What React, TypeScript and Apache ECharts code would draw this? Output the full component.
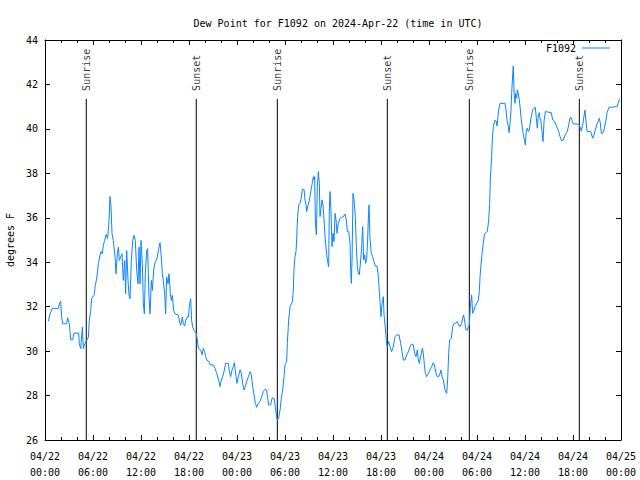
import React, { useEffect, useRef } from "react";
import * as echarts from "echarts";

// Hours since 2024-04-22 00:00 UTC
const hours: number[] = [
  0.42, 0.63, 0.92, 1.67, 1.79, 1.96, 2.08, 2.21, 2.71, 2.83, 3.04, 3.21, 3.46, 3.63, 4.21, 4.29, 4.46, 4.67, 4.79, 4.96,
  5.21, 5.42, 5.54, 5.71, 5.83, 6.13, 6.29, 6.46, 6.67, 6.88, 7.0, 7.17, 7.29, 7.46, 7.63, 7.83, 8.0, 8.13, 8.25, 8.38,
  8.54, 8.75, 8.88, 9.04, 9.17, 9.29, 9.46, 9.63, 9.79, 9.96, 10.08, 10.21, 10.38, 10.5, 10.63, 10.79, 10.96, 11.13, 11.29, 11.46,
  11.63, 11.75, 11.88, 12.0, 12.17, 12.29, 12.42, 12.54, 12.71, 12.83, 13.0, 13.13, 13.29, 13.42, 13.58, 13.71, 13.88, 14.04, 14.21, 14.38,
  14.5, 14.67, 14.79, 14.96, 15.08, 15.21, 15.38, 15.5, 15.67, 15.79, 15.92, 16.08, 16.25, 16.67, 16.83, 16.96, 17.17, 17.29, 17.46, 17.58,
  17.75, 17.92, 18.08, 18.21, 18.33, 18.46, 18.63, 18.79, 18.92,
  19.04, 19.17, 19.46, 19.63, 19.79, 19.96, 20.08, 20.21, 20.5, 20.63, 21.04, 21.25, 21.46, 21.71, 21.88, 22.0, 22.21, 22.42, 22.58, 22.92,
  23.04, 23.21, 23.38, 23.54, 23.67, 23.88, 24.0, 24.17, 24.38, 24.54, 24.71, 24.88, 25.04, 25.21, 25.42, 25.63, 25.79, 25.96, 26.13, 26.29,
  26.46, 26.63, 26.88, 27.08, 27.29, 27.5, 27.71, 27.83, 27.96, 28.21, 28.38, 28.63, 28.79, 28.92, 29.04, 29.21, 29.38, 29.54, 29.71, 29.88,
  30.0, 30.21, 30.29, 30.46, 30.63,
  30.92, 31.04, 31.13, 31.25, 31.38, 31.46, 31.58, 31.71, 31.88, 32.0, 32.17, 32.38, 32.5, 32.63, 32.71, 32.83, 33.0, 33.13, 33.29, 33.42,
  33.54, 33.63, 33.71, 33.79, 33.92, 34.04, 34.17, 34.29, 34.38, 34.5, 34.63, 34.75, 34.88, 35.04, 35.21, 35.33, 35.46, 35.54, 35.63, 35.75,
  35.88, 36.0, 36.13, 36.25, 36.38, 36.5, 36.67, 36.88, 37.08, 37.29, 37.5, 37.67, 37.79, 37.96, 38.13, 38.21, 38.29, 38.38, 38.5, 38.63,
  38.79, 38.92, 39.04, 39.17, 39.29, 39.46, 39.58, 39.71, 39.83, 39.96, 40.08, 40.21, 40.33, 40.42, 40.5, 40.63, 40.79, 40.96, 41.13, 41.29,
  41.5, 41.63, 41.75, 41.88, 42.0, 42.13, 42.29, 42.38, 42.5, 42.63,
  42.71, 42.79, 42.96, 43.13, 43.33, 43.54, 43.75, 43.96, 44.25, 44.46, 44.63, 44.79, 45.0, 45.21, 45.42, 45.63, 45.79, 46.04, 46.21, 46.38,
  46.54, 46.67, 46.79, 47.0, 47.17, 47.29, 47.42, 47.54, 47.71, 47.92, 48.13, 48.33, 48.54, 48.71, 48.88, 49.04, 49.21, 49.38, 49.5, 49.63,
  49.79, 49.96, 50.08, 50.21, 50.33, 50.46, 50.58, 50.79, 50.96, 51.13, 51.33, 51.54, 51.71, 51.88, 52.08, 52.21, 52.33, 52.5, 52.63, 52.79,
  52.92, 53.04, 53.17, 53.33, 53.46, 53.58, 53.75, 53.96, 54.17, 54.29,
  54.38, 54.5, 54.63, 54.79, 54.92, 55.08, 55.29, 55.46, 55.58, 55.67, 55.83, 55.92, 56.04, 56.21, 56.38, 56.5, 56.58, 56.71, 56.88, 57.5,
  57.63, 57.75, 57.92, 58.0, 58.13, 58.25, 58.33, 58.46, 58.54, 58.63, 58.75, 58.83, 58.96, 59.04, 59.17, 59.29, 59.42, 59.54, 59.71, 59.83,
  59.96, 60.04, 60.17, 60.29, 60.42, 60.54, 60.71, 60.83, 60.96, 61.13, 61.29, 61.42, 61.54, 61.67, 61.79, 61.88, 62.0, 62.13, 62.25, 62.38,
  62.54, 63.29, 63.46, 63.71, 63.88, 64.04, 64.21, 64.38, 64.58, 64.79, 64.96, 65.13, 65.29, 65.46, 65.63, 65.79, 65.92, 66.04, 66.54, 66.79,
  66.92, 67.04, 67.21, 67.38, 67.5, 67.63, 67.75, 68.21, 68.33, 68.46, 68.63, 68.79, 68.96, 69.13, 69.29, 69.42, 69.54, 69.71, 69.88, 70.0,
  70.13, 70.25, 70.38, 70.5, 71.54, 71.63, 71.75, 71.88,
];

// Dew point, degrees F
const dewF: number[] = [
  31.34, 31.68, 31.92, 31.92, 32.13, 32.24, 31.53, 31.23, 31.23, 31.5, 31.23, 30.51, 30.51, 30.81, 30.81, 30.33, 30.11, 31.08, 30.11, 30.33,
  30.48, 30.63, 31.38, 31.83, 32.36, 32.51, 32.96, 33.26, 33.93, 34.31, 34.49, 34.38, 34.76, 34.98, 35.25, 35.06, 35.88, 36.96, 36.48, 35.28,
  34.98, 34.23, 33.48, 34.38, 34.68, 34.08, 34.23, 34.38, 33.18, 34.08, 32.58, 34.53, 33.18, 32.51, 32.36, 34.08, 34.98, 35.21, 34.98, 33.63,
  33.03, 34.68, 33.03, 34.98, 33.93, 32.13, 31.68, 33.48, 34.53, 34.61, 32.43, 31.68, 33.18, 32.73, 33.63, 33.93, 34.08, 34.23, 34.61, 34.88,
  34.38, 33.48, 33.18, 32.58, 31.68, 33.33, 33.03, 33.48, 32.58, 32.28, 32.51, 31.83, 31.68, 31.61, 31.31, 31.16, 31.53, 31.23, 31.13, 31.38,
  31.53, 31.53, 32.13, 32.36, 31.38, 31.08, 30.93, 30.86, 30.78,
  30.5, 30.13, 30.05, 29.83, 30.13, 29.98, 29.75, 29.6, 29.53, 29.38, 29.38, 29.23, 29.0, 28.7, 28.4, 28.63, 28.85, 29.15, 29.45, 29.45,
  29.08, 28.85, 29.15, 29.3, 29.48, 28.85, 28.55, 28.85, 29.15, 29.0, 28.55, 28.25, 28.4, 28.63, 28.85, 29.08, 28.93, 28.4, 28.03, 27.65,
  27.47, 27.65, 27.73, 27.95, 28.18, 28.28, 28.25, 27.88, 27.58, 27.58, 27.88, 27.88, 27.5, 27.13, 26.9, 26.98, 27.35, 27.88, 28.25, 28.85,
  29.38, 29.53, 30.35, 31.4, 32.0,
  32.23, 32.75, 33.73, 34.25, 34.48, 35.08, 36.05, 36.58, 36.65, 36.83, 37.28, 37.28, 36.8, 36.58, 36.28, 36.5, 36.73, 36.95, 37.33, 37.58,
  37.85, 37.7, 37.85, 35.9, 35.23, 37.4, 38.08, 37.55, 36.05, 36.43, 36.8, 36.58, 35.9, 35.0, 34.33, 34.03, 33.8, 36.35, 37.18, 36.28,
  34.7, 35.3, 34.93, 36.2, 35.9, 35.3, 35.75, 35.98, 36.02, 36.05, 36.17, 35.9, 35.38, 35.38, 34.85, 33.65, 33.05, 34.1, 37.1, 36.8,
  36.05, 34.7, 33.8, 33.5, 33.43, 34.1, 34.63, 35.6, 34.1, 34.33, 33.95, 34.18, 35.0, 35.98, 36.58, 35.0, 34.4, 34.25, 34.03, 33.83,
  33.83, 33.5, 32.9, 32.23, 31.55, 32.15, 32.45, 31.63, 31.18, 30.65,
  30.28, 30.2, 30.43, 30.2, 29.98, 30.2, 30.65, 30.73, 30.73, 30.35, 29.98, 29.6, 29.6, 29.83, 29.98, 30.2, 30.31, 30.28, 29.9, 29.75,
  30.05, 29.6, 29.45, 29.83, 30.13, 29.9, 29.38, 29.0, 28.85, 29.0, 29.15, 29.3, 29.48, 29.33, 29.0, 28.85, 28.85, 29.0, 29.15, 28.85,
  28.7, 28.33, 28.18, 28.1, 28.7, 29.9, 30.5, 30.58, 31.1, 31.25, 31.25, 31.33, 31.18, 31.1, 31.25, 31.48, 31.63, 31.25, 30.95, 30.95,
  31.1, 31.18, 32.0, 32.53, 31.7, 31.78, 32.0, 32.15, 32.3, 32.68,
  33.35, 33.88, 34.4, 34.85, 35.23, 35.33, 35.38, 35.9, 36.65, 37.78, 38.75, 39.58, 40.1, 40.37, 40.37, 40.13, 40.4, 40.85, 41.15, 41.15,
  40.85, 40.4, 40.1, 39.83, 40.25, 40.85, 41.6, 42.43, 42.83, 41.6, 41.15, 41.6, 41.38, 41.75, 41.6, 41.3, 40.85, 40.4, 39.95, 39.65,
  39.5, 39.28, 39.95, 40.03, 39.88, 39.95, 40.4, 40.63, 40.85, 40.93, 40.97, 40.48, 40.03, 40.63, 40.73, 40.48, 40.33, 39.88, 39.43, 40.33,
  40.78, 40.73, 40.4, 40.33, 40.18, 40.03, 39.88, 39.65, 39.46, 39.5, 39.68, 39.8, 39.88, 40.18, 40.5, 40.5, 40.33, 40.22, 40.22, 40.18,
  40.03, 39.9, 40.18, 40.58, 40.85, 40.33, 39.88, 39.88, 39.73, 39.58, 39.73, 39.95, 40.18, 40.33, 40.48, 40.25, 39.8, 39.8, 39.95, 40.18,
  40.4, 40.73, 40.85, 40.97, 41.0, 41.15, 41.3, 41.33,
];

const sunHours: number[] = [5.16, 18.91, 29.04, 42.79, 53.04, 66.79];
const sunLabels: string[] = ["Sunrise", "Sunset", "Sunrise", "Sunset", "Sunrise", "Sunset"];
const xDates: string[] = ["04/22", "04/22", "04/22", "04/22", "04/23", "04/23", "04/23", "04/23", "04/24", "04/24", "04/24", "04/24", "04/25"];
const xTimes: string[] = ["00:00", "06:00", "12:00", "18:00"];

const FONT = "DejaVu Sans Mono";
const Y_MIN = 26;
const Y_MAX = 44;
const SUN_TOP = 41.35;
const LINE_COLOR = "#0a84ff";

export default function App() {
  const ref = useRef<HTMLDivElement>(null);
  useEffect(() => {
    if (!ref.current) return;
    const chart = echarts.init(ref.current, undefined, { renderer: "svg" });
    const text = { fontFamily: FONT, fontSize: 10, color: "#000" };
    const axisLine = { show: true, onZero: false, lineStyle: { color: "#000", width: 1 } };
    const sunSeries = sunHours.map((h, i) => ({
      type: "line",
      name: "sun" + i,
      data: [[h, Y_MIN], [h, SUN_TOP]],
      symbol: "none",
      lineStyle: { color: "#000", width: 1 },
      silent: true,
      z: 1,
    }));
    const option: any = {
      animation: false,
      backgroundColor: "#fff",
      textStyle: text,
      title: {
        text: "Dew Point for F1092 on 2024-Apr-22 (time in UTC)",
        left: 333,
        textAlign: "center",
        top: 13,
        textStyle: { fontFamily: FONT, fontSize: 10, fontWeight: "normal", color: "#000" },
      },
      legend: {
        data: [{ name: "F1092", icon: "rect" }],
        right: 30,
        top: 43,
        padding: 0,
        align: "right",
        itemWidth: 28,
        itemHeight: 1,
        itemGap: 5,
        textStyle: { fontFamily: FONT, fontSize: 10, color: "#000", padding: [0, 1, 0, 0] },
      },
      grid: { left: 45, right: 19, top: 40, bottom: 40, containLabel: false, outerBoundsMode: "none" },
      xAxis: [
        {
          type: "value",
          min: 0,
          max: 72,
          interval: 6,
          axisLine,
          axisTick: { show: true, inside: true, length: 5, lineStyle: { color: "#000" } },
          minorTick: { show: true, splitNumber: 3, length: 3, lineStyle: { color: "#000" } },
          splitLine: { show: false },
          axisLabel: {
            margin: 8,
            lineHeight: 16,
            fontFamily: FONT,
            fontSize: 10,
            color: "#000",
            formatter: (v: number) => {
              const i = Math.round(v / 6);
              return xDates[i] + "\n" + xTimes[i % 4];
            },
          },
        },
        {
          type: "value",
          position: "top",
          min: 0,
          max: 72,
          interval: 6,
          axisLine,
          axisTick: { show: true, inside: true, length: 5, lineStyle: { color: "#000" } },
          minorTick: { show: true, splitNumber: 3, length: 3, lineStyle: { color: "#000" } },
          splitLine: { show: false },
          axisLabel: { show: false },
        },
      ],
      yAxis: [
        {
          type: "value",
          min: Y_MIN,
          max: Y_MAX,
          interval: 2,
          name: "degrees F",
          nameLocation: "middle",
          nameGap: 28,
          nameTextStyle: { fontFamily: FONT, fontSize: 10, color: "#000" },
          axisLine,
          axisTick: { show: true, inside: true, length: 5, lineStyle: { color: "#000" } },
          splitLine: { show: false },
          axisLabel: { margin: 7, fontFamily: FONT, fontSize: 10, color: "#000" },
        },
        {
          type: "value",
          position: "right",
          min: Y_MIN,
          max: Y_MAX,
          interval: 2,
          axisLine,
          axisTick: { show: true, inside: true, length: 5, lineStyle: { color: "#000" } },
          splitLine: { show: false },
          axisLabel: { show: false },
        },
      ],
      series: [
        {
          type: "line",
          name: "F1092",
          data: hours.map((h, i) => [h, dewF[i]]),
          symbol: "none",
          lineStyle: { color: LINE_COLOR, width: 1 },
          itemStyle: { color: LINE_COLOR },
          z: 3,
        },
        ...sunSeries,
        {
          type: "scatter",
          name: "sunlabels",
          data: sunHours.map((h, i) => ({ value: [h, SUN_TOP], name: sunLabels[i] })),
          symbolSize: 0,
          silent: true,
          label: {
            show: true,
            formatter: (p: any) => p.name,
            position: "top",
            distance: 7,
            rotate: 90,
            align: "left",
            verticalAlign: "middle",
            offset: [1, 0],
            fontFamily: FONT,
            fontSize: 10,
            color: "#000",
          },
        },
      ],
    };
    chart.setOption(option);
    return () => chart.dispose();
  }, []);
  return <div ref={ref} style={{ width: 640, height: 480, position: "absolute", left: 0, top: 0 }} />;
}
